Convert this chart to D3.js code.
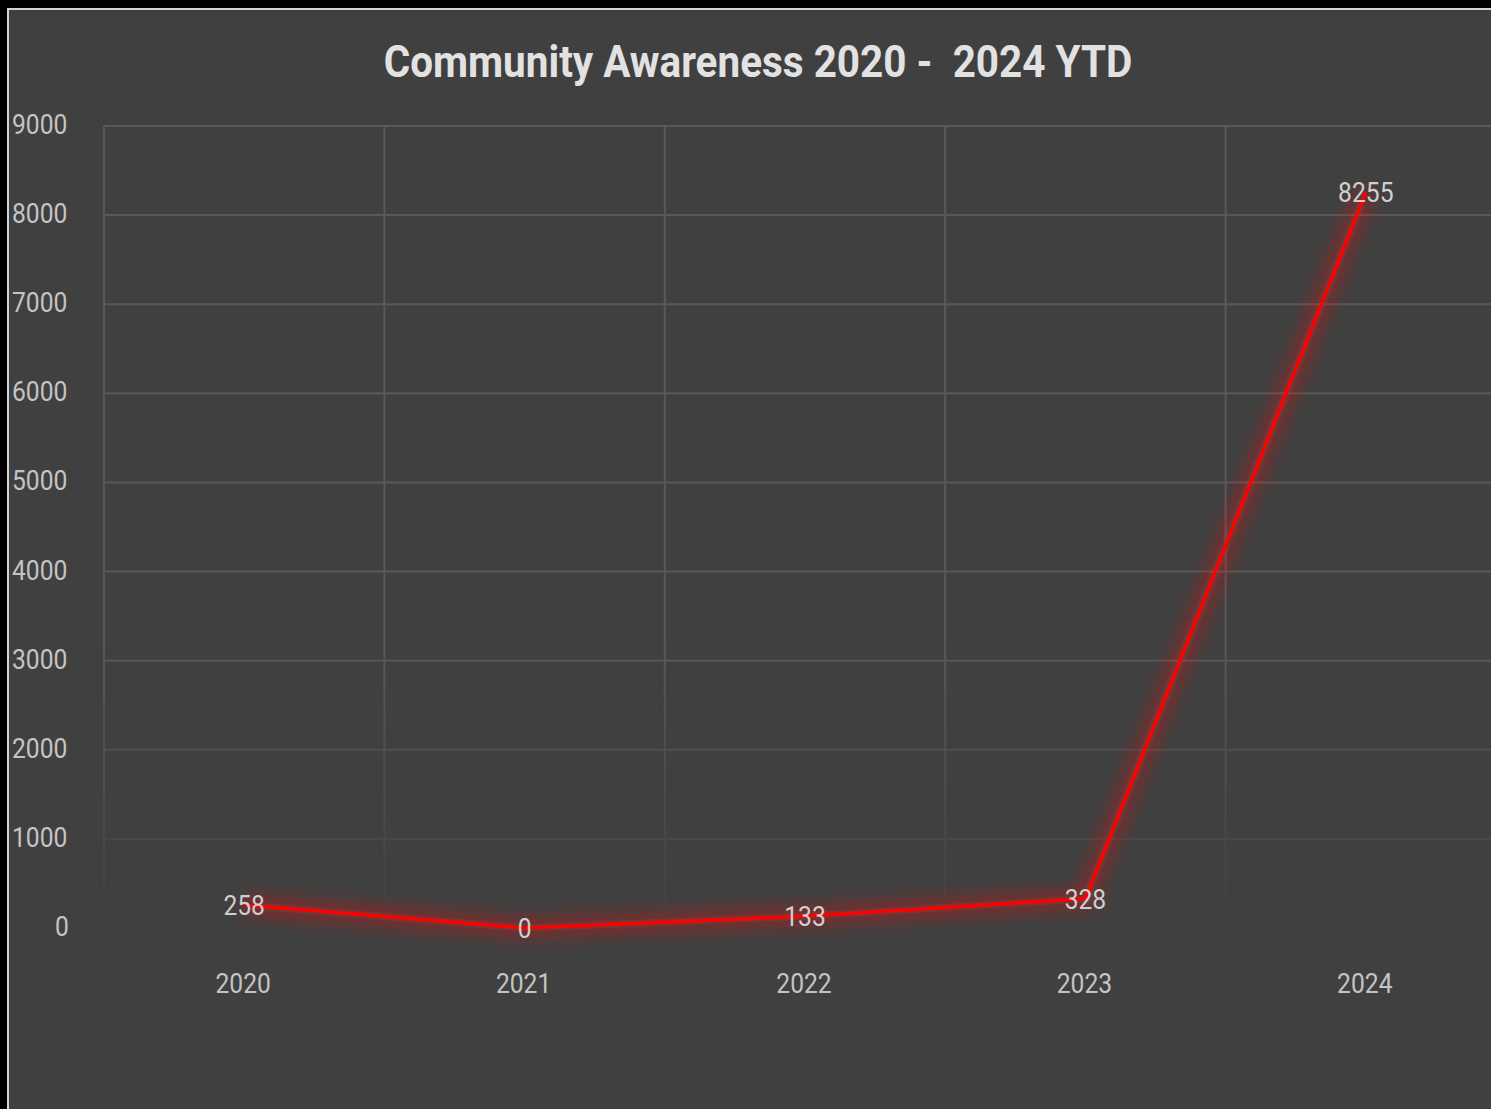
<!DOCTYPE html>
<html lang="en">
<head>
<meta charset="utf-8">
<script src="https://d3js.org/d3.v7.min.js"></script>
<style type="text/css">
  html, body {
    margin: 0;
    padding: 0;
    background: #000;
    overflow: hidden;
  }
  text {
    font-family: Roboto, "Noto Sans", sans-serif;
    white-space: pre;
  }
</style>
</head>
<body>
<script type="text/javascript">

  // chart data
  var years = ["2020", "2021", "2022", "2023", "2024"];
  var counts = [258, 0, 133, 328, 8255];
  var yTicks = [0, 1000, 2000, 3000, 4000, 5000, 6000, 7000, 8000, 9000];
  var title = "Community Awareness 2020 -  2024 YTD";

  var width = 1491;
  var height = 1109;

  var svg = d3.select("body")
    .append("svg")
    .attr("width", width)
    .attr("height", height);

  var defs = svg.append("defs");

  // glow behind the red line
  var glow = defs.append("filter")
    .attr("id", "glow")
    .attr("x", "-20%").attr("y", "-20%")
    .attr("width", "140%").attr("height", "140%");
  glow.append("feGaussianBlur")
    .attr("stdDeviation", 9);

  // gridlines fade out near the bottom
  var grad = defs.append("linearGradient")
    .attr("id", "fade")
    .attr("gradientUnits", "userSpaceOnUse")
    .attr("x1", 0).attr("x2", 0)
    .attr("y1", 640).attr("y2", 935);
  grad.append("stop").attr("offset", 0).attr("stop-color", "#fff");
  grad.append("stop").attr("offset", 1).attr("stop-color", "#000");
  defs.append("mask")
    .attr("id", "gridMask")
    .attr("maskUnits", "userSpaceOnUse")
    .attr("x", 0).attr("y", 0).attr("width", width).attr("height", height)
    .append("rect")
    .attr("width", width)
    .attr("height", height)
    .style("fill", "url(#fade)");

  // panel + light frame
  svg.append("rect")
    .attr("x", 8).attr("y", 9)
    .attr("width", width).attr("height", height)
    .style("fill", "#404040")
    .style("stroke", "#d4d4d4")
    .style("stroke-width", 2);

  // scales
  var x = d3.scaleBand()
    .domain(years)
    .range([104, 1506]);

  var y = d3.scaleLinear()
    .domain([0, 9000])
    .range([928, 126]);

  // grid
  var grid = svg.append("g")
    .attr("mask", "url(#gridMask)");

  grid.selectAll("line.h")
    .data(yTicks.filter(function(d) { return d > 0; }))
    .enter()
    .append("line")
    .attr("class", "h")
    .attr("x1", 104)
    .attr("x2", width)
    .attr("y1", function(d) { return y(d); })
    .attr("y2", function(d) { return y(d); })
    .style("stroke", "#595959")
    .style("stroke-width", 2);

  grid.selectAll("line.v")
    .data(years.concat(["end"]))
    .enter()
    .append("line")
    .attr("class", "v")
    .attr("x1", function(d, i) { return 104 + i * x.bandwidth(); })
    .attr("x2", function(d, i) { return 104 + i * x.bandwidth(); })
    .attr("y1", y(9000))
    .attr("y2", y(0))
    .style("stroke", "#595959")
    .style("stroke-width", 2);

  // y tick labels
  svg.selectAll("text.ytick")
    .data(yTicks)
    .enter()
    .append("text")
    .attr("class", "ytick")
    .attr("transform", function(d) {
      var s = String(d);
      var tx = s.length == 1 ? 55 : 12;
      return "translate(" + tx + "," + (y(d) + 8) + ") scale(0.88,1)";
    })
    .style("font-size", "28px")
    .style("fill", "#c4c4c4")
    .text(function(d) { return d; });

  // x tick labels
  svg.selectAll("text.xtick")
    .data(years)
    .enter()
    .append("text")
    .attr("class", "xtick")
    .attr("transform", function(d) {
      return "translate(" + (x(d) + x.bandwidth() / 2 - 1) + ",993) scale(0.88,1)";
    })
    .attr("text-anchor", "middle")
    .style("font-size", "28px")
    .style("fill", "#c4c4c4")
    .text(function(d) { return d; });

  // line
  var line = d3.line()
    .x(function(d, i) { return x(years[i]) + x.bandwidth() / 2; })
    .y(function(d) { return y(d); });

  svg.append("path")
    .datum(counts)
    .attr("d", line)
    .attr("filter", "url(#glow)")
    .style("fill", "none")
    .style("stroke", "#ff1010")
    .style("stroke-opacity", 0.45)
    .style("stroke-width", 14);

  svg.append("path")
    .datum(counts)
    .attr("d", line)
    .style("fill", "none")
    .style("stroke", "#ff0000")
    .style("stroke-width", 3.5)
    .style("stroke-linejoin", "round");

  // value labels
  svg.selectAll("text.val")
    .data(counts)
    .enter()
    .append("text")
    .attr("class", "val")
    .attr("transform", function(d, i) {
      return "translate(" + (x(years[i]) + x.bandwidth() / 2) + "," + (y(d) + 10) + ") scale(0.88,1)";
    })
    .attr("text-anchor", "middle")
    .style("font-size", "28px")
    .style("fill", "#cfcfcf")
    .text(function(d) { return d; });

  // title
  svg.append("text")
    .attr("transform", "translate(758,77) scale(0.92,1)")
    .attr("text-anchor", "middle")
    .style("font-size", "44px")
    .style("font-weight", "bold")
    .style("fill", "#e2e2e2")
    .text(title);

</script>
</body>
</html>
